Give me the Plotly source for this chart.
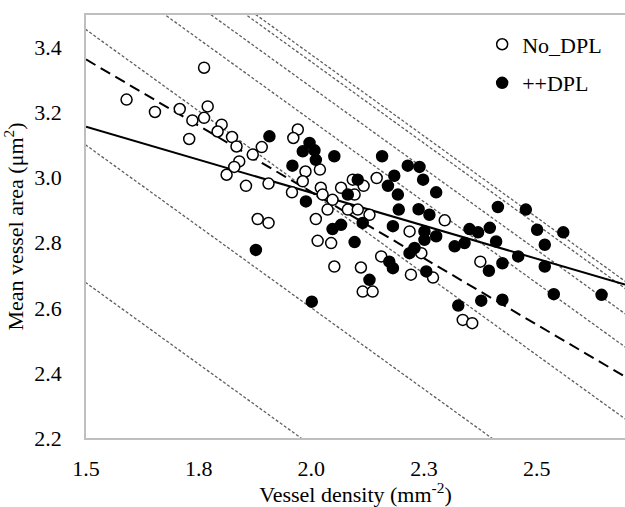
import numpy as np
import plotly.graph_objects as go

# No_DPL group (open circles)
no_dpl_x = [1.762, 1.590, 1.653, 1.708, 1.770, 1.762, 1.736, 1.801, 1.792, 1.824,
            1.729, 1.834, 1.890, 1.870, 1.840, 1.829, 1.812, 1.855, 1.905, 1.970,
            1.960, 1.987, 1.981, 1.957, 1.881, 1.905, 2.019, 2.021, 2.066, 2.092,
            2.116, 2.145, 2.025, 2.047, 2.096, 2.036, 2.081, 2.103, 2.010, 2.129,
            2.296, 2.218, 2.014, 2.044, 2.051, 2.110, 2.155, 2.114, 2.136, 2.221,
            2.270, 2.244, 2.375, 2.336, 2.357]
no_dpl_y = [3.338, 3.240, 3.202, 3.211, 3.219, 3.184, 3.176, 3.163, 3.142, 3.125,
            3.119, 3.096, 3.094, 3.071, 3.050, 3.033, 3.009, 2.975, 2.982, 3.148,
            3.122, 3.019, 2.989, 2.955, 2.873, 2.861, 3.025, 2.969, 2.969, 2.994,
            2.975, 2.999, 2.948, 2.932, 2.948, 2.902, 2.902, 2.902, 2.873, 2.886,
            2.869, 2.835, 2.806, 2.799, 2.727, 2.724, 2.758, 2.650, 2.650, 2.702,
            2.693, 2.768, 2.742, 2.563, 2.553]

# ++DPL group (filled circles)
dpl_x = [1.907, 1.996, 1.981, 1.958, 1.988, 1.877, 2.007, 2.010, 2.051, 2.157,
         2.214, 2.240, 2.184, 2.248, 2.103, 2.170, 2.277, 2.081, 2.192, 2.194,
         2.238, 2.262, 2.181, 2.047, 2.066, 2.114, 2.251, 2.096, 2.129, 2.173,
         2.181, 2.218, 2.229, 2.251, 2.277, 2.255, 2.001, 2.318, 2.340, 2.410,
         2.518, 2.459, 2.424, 2.394, 2.518, 2.538, 2.644, 2.377, 2.424, 2.326,
         2.414, 2.476, 2.351, 2.370, 2.396, 2.501, 2.559]
dpl_y = [3.127, 3.107, 3.081, 3.037, 2.927, 2.778, 3.084, 3.055, 3.066, 3.066,
         3.037, 3.033, 3.006, 2.994, 2.994, 2.975, 2.955, 2.948, 2.948, 2.902,
         2.903, 2.886, 2.851, 2.842, 2.855, 2.861, 2.835, 2.802, 2.686, 2.742,
         2.722, 2.768, 2.784, 2.809, 2.820, 2.712, 2.619, 2.789, 2.799, 2.804,
         2.794, 2.758, 2.737, 2.714, 2.727, 2.642, 2.640, 2.622, 2.625, 2.607,
         2.910, 2.902, 2.842, 2.832, 2.846, 2.840, 2.832]

# trend lines (intercept, slope)
solid_fit = (3.766, -0.406)
dashed_fit = (4.586, -0.815)

# iso-lines x + y = c
iso_levels = [4.177, 4.60, 4.955, 5.176, 5.278, 5.356, 5.378]

x_range = [1.5, 2.696]
y_range = [2.2, 3.5]
x_tickvals = [1.5, 1.75, 2.0, 2.25, 2.5]
x_ticktext = ["1.5", "1.8", "2.0", "2.3", "2.5"]
y_tickvals = [2.2, 2.4, 2.6, 2.8, 3.0, 3.2, 3.4]

FONT = "Liberation Serif, Times New Roman, serif"

fig = go.Figure()

# gray dotted iso-lines
xs = np.linspace(x_range[0] - 1, x_range[1] + 1, 2)
for c in iso_levels:
    fig.add_trace(go.Scatter(
        x=xs, y=c - xs, mode="lines",
        line=dict(color="#5f5f5f", width=1.3, dash="3px,2px"),
        showlegend=False, hoverinfo="skip"
    ))

# regression lines
xl = np.array(x_range)
fig.add_trace(go.Scatter(
    x=xl, y=dashed_fit[0] + dashed_fit[1] * xl, mode="lines",
    line=dict(color="black", width=2, dash="11px,6px"),
    showlegend=False, hoverinfo="skip"
))
fig.add_trace(go.Scatter(
    x=xl, y=solid_fit[0] + solid_fit[1] * xl, mode="lines",
    line=dict(color="black", width=2),
    showlegend=False, hoverinfo="skip"
))

# scatter points
fig.add_trace(go.Scatter(
    x=no_dpl_x, y=no_dpl_y, mode="markers", name="No_DPL",
    legendgroup="a",
    marker=dict(symbol="circle", size=11, color="white",
                line=dict(color="black", width=1.5))
))
fig.add_trace(go.Scatter(
    x=dpl_x, y=dpl_y, mode="markers", name="++DPL",
    legendgroup="b",
    marker=dict(symbol="circle", size=11, color="black",
                line=dict(color="black", width=1.5))
))

fig.update_layout(
    width=625, height=507,
    margin=dict(l=86, r=0, t=15, b=69),
    paper_bgcolor="white", plot_bgcolor="white",
    font=dict(family=FONT, size=22, color="black"),
    legend=dict(x=0.735, y=0.98, xanchor="left", yanchor="top",
                bgcolor="rgba(0,0,0,0)", tracegroupgap=7,
                font=dict(family=FONT, size=22, color="black"),
                itemwidth=30),
    xaxis=dict(
        range=x_range, tickvals=x_tickvals, ticktext=x_ticktext,
        showgrid=False, zeroline=False,
        showline=True, linecolor="#bfbfbf", linewidth=1.5, mirror=True,
        ticks="", ticklabelstandoff=10,
        title=dict(text="Vessel density (mm<sup>-2</sup>)", standoff=6,
                   font=dict(family=FONT, size=22)),
    ),
    yaxis=dict(
        range=y_range, tickvals=y_tickvals, tickformat=".1f",
        showgrid=False, zeroline=False,
        showline=True, linecolor="#bfbfbf", linewidth=1.5,
        ticks="", ticklabelstandoff=18,
        title=dict(text="Mean vessel area (μm<sup>2</sup>)", standoff=8,
                   font=dict(family=FONT, size=22)),
    ),
)

fig.write_html("out.html", config={"displayModeBar": False},
               post_script="document.body.style.margin='0';")
